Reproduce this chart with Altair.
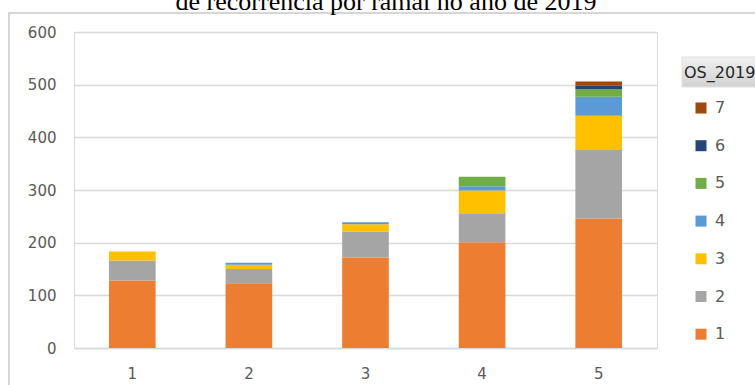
import altair as alt
import pandas as pd

# Categories (ramal) and the OS_2019 recurrence series stacked on each bar
ramal = ["1", "2", "3", "4", "5"]
os_series = ["1", "2", "3", "4", "5", "6", "7"]
os_colors = ["#ED7D31", "#A5A5A5", "#FFC000", "#5B9BD5", "#70AD47", "#264478", "#9E480E"]

os_1 = [128, 123, 172, 201, 246]
os_2 = [38, 27, 49, 55, 130]
os_3 = [17, 8, 14, 43, 65]
os_4 = [0, 4, 4, 8, 36]
os_5 = [0, 0, 0, 18, 15]
os_6 = [0, 0, 0, 0, 6]
os_7 = [0, 0, 0, 0, 8]

y_ticks = [0, 100, 200, 300, 400, 500, 600]
title_text = "de recorrência por ramal no ano de 2019"

series_values = [os_1, os_2, os_3, os_4, os_5, os_6, os_7]
rows = []
for k, (name, vals) in enumerate(zip(os_series, series_values)):
    for r, v in zip(ramal, vals):
        rows.append({"ramal": r, "os": name, "ordem": k, "qtd": v})
df = pd.DataFrame(rows)

FONT = "DejaVu Sans"
GRID = "#D9D9D9"
TEXT = "#595959"

bars = alt.Chart(df).mark_bar().encode(
    x=alt.X(
        "ramal:N",
        sort=ramal,
        scale=alt.Scale(paddingInner=0.6, paddingOuter=0.3),
        axis=alt.Axis(
            title=None, labelAngle=0, ticks=False, grid=False,
            domainColor=GRID, domainWidth=1.5,
            labelFont=FONT, labelFontSize=15, labelColor=TEXT, labelPadding=18,
        ),
    ),
    y=alt.Y(
        "qtd:Q",
        stack="zero",
        scale=alt.Scale(domain=[0, 600], nice=False),
        axis=alt.Axis(
            title=None, values=y_ticks, ticks=False, domain=False,
            gridColor=GRID, gridWidth=1.5,
            labelFont=FONT, labelFontSize=15, labelColor=TEXT, labelPadding=18,
        ),
    ),
    color=alt.Color(
        "os:N",
        scale=alt.Scale(domain=os_series[::-1], range=os_colors[::-1]),
        legend=alt.Legend(
            title="OS_2019", orient="none", legendX=610, legendY=33,
            titleFont=FONT, titleFontSize=16, titleFontWeight="normal",
            titleColor="#262626", titlePadding=19,
            symbolType="square", symbolSize=121, symbolStrokeWidth=0,
            symbolOffset=9,
            labelFont=FONT, labelFontSize=16, labelColor=TEXT,
            labelOffset=6, rowPadding=21.7, padding=0,
        ),
    ),
    order=alt.Order("ordem:Q", sort="ascending"),
)

deco = pd.DataFrame({"k": [0]})

# outer chart-area border
frame = alt.Chart(deco).mark_rect(fill=None, stroke="#C9C9C9", strokeWidth=1.5).encode(
    x=alt.value(-65), x2=alt.value(700), y=alt.value(-19), y2=alt.value(380)
)

# shaded header box behind the legend title
header = alt.Chart(deco).mark_rect(
    fill=alt.Gradient(
        gradient="linear", x1=0, x2=0, y1=0, y2=1,
        stops=[alt.GradientStop(color="#F0F0F0", offset=0),
               alt.GradientStop(color="#D2D2D2", offset=1)],
    ),
    stroke="#E0E0E0", strokeWidth=1,
).encode(x=alt.value(608), x2=alt.value(700), y=alt.value(25), y2=alt.value(55))

heading = alt.Chart(deco).mark_text(
    text=title_text, font="Liberation Serif", fontSize=26, color="#000000",
    align="center", baseline="alphabetic",
).encode(x=alt.value(312), y=alt.value(-22))

chart = alt.layer(frame, header, bars, heading).properties(
    width=583, height=316,
    autosize=alt.AutoSizeParams(type="none"),
    padding={"left": 74, "top": 32, "right": 98, "bottom": 37},
).configure_view(stroke=None).configure(background="white")

chart.save("out.html", embed_options={"renderer": "svg", "actions": False})
